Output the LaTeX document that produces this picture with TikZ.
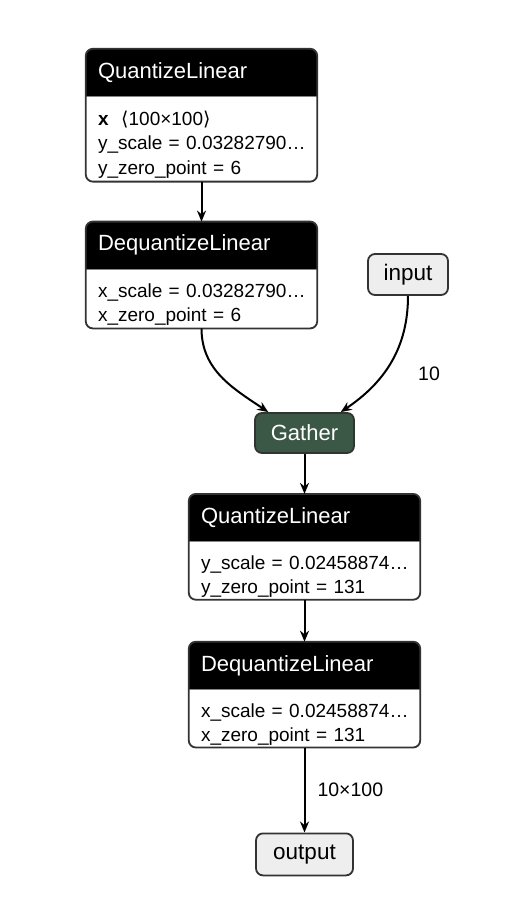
\documentclass[tikz,border=0pt]{standalone}
\usepackage{fontspec}
\setmainfont{Liberation Sans}
\newfontfamily\symfont{DejaVu Sans}
\usetikzlibrary{arrows.meta,positioning,backgrounds}
\definecolor{nodeborder}{HTML}{333333}
\definecolor{nodegray}{HTML}{EEEEEE}
\definecolor{gathergreen}{HTML}{3B5746}

% header and body of one operator, filled and framed
\newcommand{\opframe}[2]{%
    \fill[white, rounded corners=7pt] (#1.north west) rectangle (#2.south east);
    \fill[black, rounded corners=7pt] (#1.north west) rectangle (#1.south east);
    \fill[black] (#1.west) rectangle (#1.south east);
    \draw[nodeborder!60, line width=1pt] (#1.south west) -- (#1.south east);
    \draw[nodeborder, line width=1.8pt, rounded corners=7pt] (#1.north west) rectangle (#2.south east);
}

\begin{document}
\begin{tikzpicture}[
    x=1pt, y=1pt,
    opheader/.style={
        text width=207pt,
        align=left,
        inner xsep=12pt,
        inner ysep=0pt,
        minimum height=47pt,
        text=white,
        font=\fontsize{22}{26}\selectfont
    },
    opbody/.style={
        text width=207pt,
        align=left,
        inner xsep=12pt,
        inner ysep=0pt,
        execute at begin node={\rule{0pt}{26pt}\ignorespaces},
        font=\fontsize{19}{24.5}\selectfont
    },
    ionode/.style={
        draw=nodeborder,
        fill=nodegray,
        line width=1.8pt,
        rounded corners=7pt,
        minimum height=41pt,
        font=\fontsize{22.5}{26}\selectfont
    },
    gathernode/.style={
        draw=nodeborder,
        fill=gathergreen,
        line width=1.8pt,
        rounded corners=7pt,
        minimum width=99pt,
        minimum height=40pt,
        text=white,
        font=\fontsize{22}{26}\selectfont
    },
    flow/.style={-{Stealth[length=11pt,width=9pt]}, line width=2pt, draw=black},
    flowlabel/.style={inner sep=0pt, font=\fontsize{19.5}{22}\selectfont}
]
    \useasboundingbox (0,0) rectangle (528,-916);

    \node[opheader] (quant1h) at (201.5,-72.5) {QuantizeLinear};
    \node[opbody, minimum height=85pt, below=0pt of quant1h] (quant1b) {
        \textbf{x}\ \ {\symfont⟨}100×100{\symfont⟩}\\
        y\_scale~=~0.03282790…\\
        y\_zero\_point~=~6
    };

    \node[opheader, below=40pt of quant1b] (dequant1h) {DequantizeLinear};
    \node[opbody, minimum height=59pt, below=0pt of dequant1h] (dequant1b) {
        x\_scale~=~0.03282790…\\
        x\_zero\_point~=~6
    };

    \node[ionode, minimum width=80pt] (input) at (408,-274.5) {input};

    \node[gathernode] (gather) at (304.5,-433) {Gather};

    \node[opheader, below=40pt of gather] (quant2h) {QuantizeLinear};
    \node[opbody, minimum height=58pt, below=0pt of quant2h] (quant2b) {
        y\_scale~=~0.02458874…\\
        y\_zero\_point~=~131
    };

    \node[opheader, below=42pt of quant2b] (dequant2h) {DequantizeLinear};
    \node[opbody, minimum height=58pt, below=0pt of dequant2h] (dequant2b) {
        x\_scale~=~0.02458874…\\
        x\_zero\_point~=~131
    };

    \node[ionode, minimum width=97pt, minimum height=42pt, below=85pt of dequant2b] (output) {output};

    \begin{scope}[on background layer]
        \fill[white] (0,0) rectangle (528,-916);
        \opframe{quant1h}{quant1b}
        \opframe{dequant1h}{dequant1b}
        \opframe{quant2h}{quant2b}
        \opframe{dequant2h}{dequant2b}
    \end{scope}

    \draw[flow] (quant1b) -- (dequant1h);
    \draw[flow] (dequant1b.south) to[out=-90, in=146] (gather.150);
    \draw[flow] (input.south) to[out=-90, in=34]
        node[flowlabel, pos=0.6, right=34pt] {10} (gather.30);
    \draw[flow] (gather) -- (quant2h);
    \draw[flow] (quant2b) -- (dequant2h);
    \draw[flow] (dequant2b) -- node[flowlabel, right=12pt] {10×100} (output);
\end{tikzpicture}
\end{document}
